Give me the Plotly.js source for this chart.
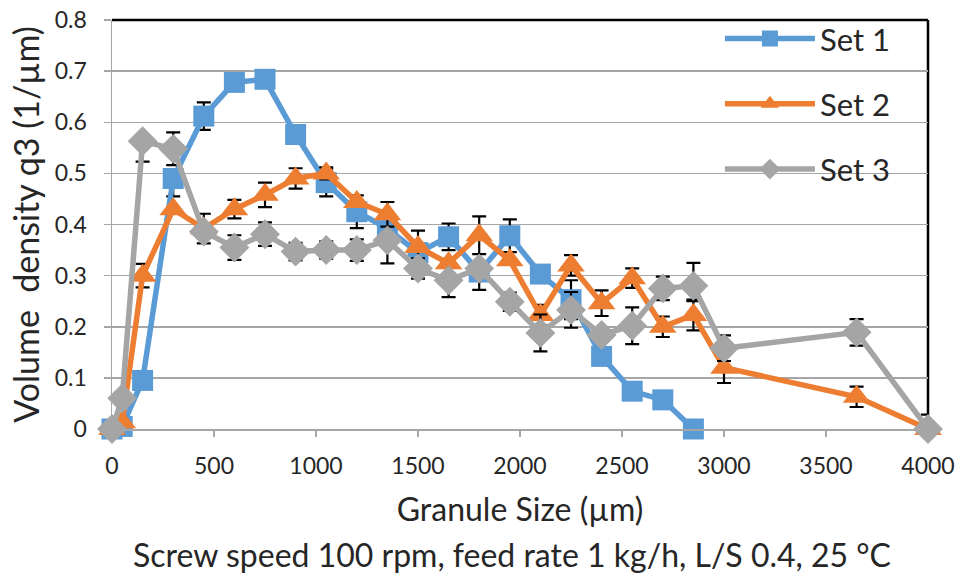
<!DOCTYPE html>
<html>
<head>
<meta charset="utf-8">
<script src="https://cdn.plot.ly/plotly-3.0.1.min.js"></script>
<style>html,body{margin:0;padding:0;background:#fff;}#chart{width:958px;height:577px;}</style>
</head>
<body>
<div id="chart"></div>
<script>
// Granule size (µm)
const sizes = [0, 50, 150, 300, 450, 600, 750, 900, 1050, 1200, 1350, 1500, 1650, 1800, 1950, 2100, 2250, 2400, 2550, 2700, 2850, 3000, 3650, 4000];
const set1Sizes = [0, 50, 150, 300, 450, 600, 750, 900, 1050, 1200, 1350, 1500, 1650, 1800, 1950, 2100, 2250, 2400, 2550, 2700, 2850];

// Set 1
const set1Y     = [0, 0.005, 0.095, 0.49, 0.612, 0.678, 0.684, 0.576, 0.482, 0.425, 0.392, 0.345, 0.376, 0.307, 0.378, 0.303, 0.253, 0.142, 0.074, 0.057, 0];
const set1Plus  = [0, 0, 0, 0, 0.027, 0, 0, 0, 0.027, 0.032, 0, 0, 0.026, 0, 0.032, 0, 0.038, 0, 0, 0, 0];
const set1Minus = [0, 0, 0, 0.035, 0.027, 0, 0, 0, 0.027, 0.032, 0, 0, 0.026, 0, 0.032, 0, 0.038, 0, 0, 0, 0];

// Set 2
const set2Y   = [0, 0.013, 0.30, 0.43, 0.392, 0.43, 0.458, 0.49, 0.50, 0.444, 0.42, 0.356, 0.324, 0.379, 0.33, 0.223, 0.32, 0.246, 0.295, 0.2, 0.223, 0.12, 0.063, 0];
const set2Err = [0, 0, 0.023, 0, 0.029, 0.018, 0.024, 0.02, 0.012, 0, 0.024, 0.032, 0, 0.037, 0, 0.02, 0.02, 0.025, 0.019, 0.02, 0.03, 0.03, 0.02, 0];

// Set 3
const set3Y     = [0, 0.06, 0.563, 0.548, 0.386, 0.355, 0.381, 0.347, 0.35, 0.35, 0.369, 0.314, 0.291, 0.314, 0.249, 0.188, 0.233, 0.184, 0.202, 0.275, 0.28, 0.158, 0.189, 0];
const set3Plus  = [0, 0, 0, 0.032, 0, 0.024, 0.023, 0.017, 0.017, 0.021, 0, 0.02, 0, 0, 0.018, 0.036, 0.035, 0, 0.036, 0.023, 0.045, 0.025, 0.026, 0.028];
const set3Minus = [0, 0, 0.04, 0.032, 0, 0.024, 0.023, 0.017, 0.017, 0.021, 0.045, 0.02, 0.033, 0.042, 0.018, 0.036, 0.035, 0, 0.036, 0.023, 0.03, 0.025, 0.026, 0];

const seriesNames = ['Set 1', 'Set 2', 'Set 3'];
const colors = ['#5B9BD5', '#ED7D31', '#A5A5A5'];

const FONT = 'Lato, "Open Sans", sans-serif';
const TXT = '#262626';
const errStyle = {color: '#000000', thickness: 2.2, width: 7};

function trace(i, x, y, plus, minus, symbol, size) {
  return {
    type: 'scatter', mode: 'lines+markers', name: seriesNames[i],
    legendgroup: 'g' + i,
    x: x, y: y,
    line: {color: colors[i], width: 5.5},
    marker: {color: colors[i], symbol: symbol, size: size},
    error_y: Object.assign({type: 'data', symmetric: false, array: plus, arrayminus: minus, visible: true}, errStyle),
    cliponaxis: false
  };
}

const data = [
  trace(0, set1Sizes, set1Y, set1Plus, set1Minus, 'square', 21),
  trace(1, sizes, set2Y, set2Err, set2Err, 'triangle-up', 24),
  trace(2, sizes, set3Y, set3Plus, set3Minus, 'diamond', 23)
];

const layout = {
  width: 958, height: 577,
  margin: {l: 112, r: 30, t: 20, b: 148},
  paper_bgcolor: '#ffffff', plot_bgcolor: '#ffffff',
  font: {family: FONT, color: TXT},
  showlegend: true,
  legend: {
    x: 0.745, y: 1.02, xanchor: 'left', yanchor: 'top',
    bgcolor: 'rgba(0,0,0,0)', borderwidth: 0,
    font: {family: FONT, size: 31, color: TXT},
    itemwidth: 90, traceorder: 'grouped', tracegroupgap: 22
  },
  xaxis: {
    range: [0, 4000], tick0: 0, dtick: 500,
    showgrid: false, zeroline: false,
    showline: true, linecolor: '#A6A6A6', linewidth: 1.5,
    ticks: 'outside', ticklen: 6, tickcolor: '#A6A6A6', tickwidth: 1.5,
    ticklabelstandoff: 10,
    tickfont: {family: FONT, size: 23, color: TXT},
    title: {text: 'Granule Size (µm)', font: {family: FONT, size: 32, color: TXT}, standoff: 20}
  },
  yaxis: {
    range: [0, 0.8], tick0: 0, dtick: 0.1,
    showgrid: true, gridcolor: '#A6A6A6', gridwidth: 1.5,
    zeroline: false,
    showline: true, linecolor: '#A6A6A6', linewidth: 1.5,
    ticks: 'outside', ticklen: 7, tickcolor: '#A6A6A6', tickwidth: 1.5,
    ticklabelstandoff: 12,
    tickfont: {family: FONT, size: 23, color: TXT},
    title: {text: 'Volume\u00a0 density q3 (1/µm)', font: {family: FONT, size: 34, color: TXT}, standoff: 5}
  },
  shapes: [
    {type: 'line', xref: 'paper', yref: 'paper', x0: 0, x1: 1, y0: 1, y1: 1, line: {color: '#000000', width: 2.5}, layer: 'between'},
    {type: 'line', xref: 'paper', yref: 'paper', x0: 1, x1: 1, y0: 0, y1: 1, line: {color: '#000000', width: 2.5}, layer: 'between'}
  ],
  annotations: [
    {text: 'Screw speed 100 rpm, feed rate 1 kg/h, L/S 0.4, 25 °C', xref: 'paper', yref: 'paper',
     x: 0.49, y: -0.308, xanchor: 'center', yanchor: 'middle', showarrow: false,
     font: {family: FONT, size: 32, color: TXT}}
  ]
};

Plotly.newPlot('chart', data, layout, {displayModeBar: false, staticPlot: true});
</script>
</body>
</html>
